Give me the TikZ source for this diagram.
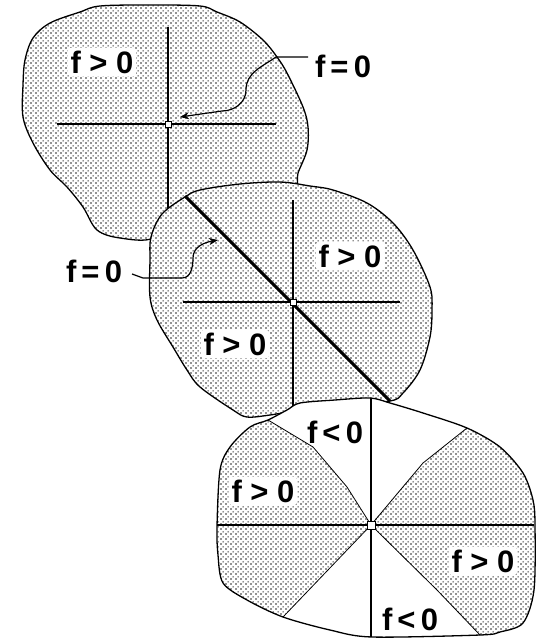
\documentclass[tikz,border=0pt]{standalone}
\usepackage{fontspec}
\setmainfont{Liberation Sans}
\usetikzlibrary{patterns.meta,arrows.meta}
\pgfdeclarepattern{
  name=stipple,
  type=uncolored,
  bottom left={\pgfpoint{0pt}{0pt}},
  top right={\pgfpoint{5pt}{5pt}},
  tile size={\pgfpoint{5pt}{5pt}},
  code={
    \pgfpathrectangle{\pgfpoint{0.5pt}{0.5pt}}{\pgfpoint{1.4pt}{1.4pt}}
    \pgfpathrectangle{\pgfpoint{3pt}{3pt}}{\pgfpoint{1.4pt}{1.4pt}}
    \pgfusepath{fill}
  }
}
\tikzset{
  outline/.style={draw=black, line width=1.3pt},
  dotfill/.style={pattern=stipple, pattern color=black},
  axis/.style={draw=black, line width=1.1pt},
  sector/.style={draw=black, line width=0.8pt},
  centre/.style={draw=black, fill=white, line width=0.9pt, minimum size=#1, inner sep=0pt, rectangle},
  lab/.style={font=\fontsize{31}{31}\selectfont\bfseries, inner sep=3pt, rounded corners=4pt},
  labw/.style={lab, fill=white},
  leader/.style={draw=black, line width=1.2pt},
}
\begin{document}
\begin{tikzpicture}[x=1pt,y=-1pt]
\useasboundingbox (0,0) rectangle (537,639);
% ---------- blob 1 ----------
\path[fill=white] plot[smooth cycle, tension=0.55] coordinates {(33,38) (50,23) (80,12) (100,6) (150,5) (200,6) (217,12) (240,22) (263,40) (277,57) (287,73) (303,107) (308,127) (307,150) (298,173) (292,192) (240,200) (195,202) (170,210) (153,238) (120,238) (97,230) (83,207) (67,187) (50,170) (33,143) (23,117) (23,85) (25,60)};
\path[dotfill] plot[smooth cycle, tension=0.55] coordinates {(33,38) (50,23) (80,12) (100,6) (150,5) (200,6) (217,12) (240,22) (263,40) (277,57) (287,73) (303,107) (308,127) (307,150) (298,173) (292,192) (240,200) (195,202) (170,210) (153,238) (120,238) (97,230) (83,207) (67,187) (50,170) (33,143) (23,117) (23,85) (25,60)};
\path[outline] plot[smooth cycle, tension=0.55] coordinates {(33,38) (50,23) (80,12) (100,6) (150,5) (200,6) (217,12) (240,22) (263,40) (277,57) (287,73) (303,107) (308,127) (307,150) (298,173) (292,192) (240,200) (195,202) (170,210) (153,238) (120,238) (97,230) (83,207) (67,187) (50,170) (33,143) (23,117) (23,85) (25,60)};
\coordinate (c1) at (168,124);
\coordinate (h1w) at (57,124);
\coordinate (h1e) at (276,124);
\coordinate (v1n) at (168,27);
\coordinate (v1s) at (168,208);
\draw[axis] (h1w) -- (h1e);
\draw[axis] (v1n) -- (v1s);
% ---------- blob 2 ----------
\path[fill=white] plot[smooth cycle, tension=0.55] coordinates {(185,197) (200,190) (240,184) (280,182) (310,186) (333,190) (367,203) (393,223) (413,250) (430,287) (432,310) (430,337) (420,370) (403,393) (390,401) (340,405) (300,410) (270,415) (247,417) (233,410) (200,387) (187,370) (173,347) (157,320) (150,297) (150,260) (151,237) (162,214)};
\path[dotfill] plot[smooth cycle, tension=0.55] coordinates {(185,197) (200,190) (240,184) (280,182) (310,186) (333,190) (367,203) (393,223) (413,250) (430,287) (432,310) (430,337) (420,370) (403,393) (390,401) (340,405) (300,410) (270,415) (247,417) (233,410) (200,387) (187,370) (173,347) (157,320) (150,297) (150,260) (151,237) (162,214)};
\path[outline] plot[smooth cycle, tension=0.55] coordinates {(185,197) (200,190) (240,184) (280,182) (310,186) (333,190) (367,203) (393,223) (413,250) (430,287) (432,310) (430,337) (420,370) (403,393) (390,401) (340,405) (300,410) (270,415) (247,417) (233,410) (200,387) (187,370) (173,347) (157,320) (150,297) (150,260) (151,237) (162,214)};
\coordinate (c2) at (293,302);
\coordinate (h2w) at (183,302);
\coordinate (h2e) at (400,302);
\coordinate (v2n) at (293,200);
\coordinate (v2s) at (293,412);
\coordinate (d2a) at (185,196);
\coordinate (d2b) at (390,401);
\draw[axis] (h2w) -- (h2e);
\draw[axis] (v2n) -- (v2s);
\draw[line width=3pt] (d2a) -- (d2b);
% ---------- blob 3 ----------
\path[fill=white] plot[smooth cycle, tension=0.5] coordinates {(300,403) (335,400) (370,398) (390,403) (423,413) (467,428) (500,447) (523,473) (533,500) (535,525) (534,590) (523,623) (500,632) (480,635) (372,637) (330,630) (283,617) (247,600) (223,583) (218,555) (217,527) (220,470) (230,447) (250,427) (268,420) (287,410)};
\begin{scope}
\clip plot[smooth cycle, tension=0.5] coordinates {(300,403) (335,400) (370,398) (390,403) (423,413) (467,428) (500,447) (523,473) (533,500) (535,525) (534,590) (523,623) (500,632) (480,635) (372,637) (330,630) (283,617) (247,600) (223,583) (218,555) (217,527) (220,470) (230,447) (250,427) (268,420) (287,410)};
\path[dotfill] (370,525) -- (347,487) -- (313,447) -- (268,420) -- (250,400) -- (200,400) -- (200,650) -- (275,650) -- (283,617) -- cycle;
\path[dotfill] (370,525) -- (423,463) -- (467,428) -- (490,400) -- (545,400) -- (545,650) -- (492,650) -- (480,635) -- (437,590) -- cycle;
\end{scope}
\coordinate (c3) at (371,525);
\draw[sector] (c3) -- (347,487) -- (313,447) -- (268,420);
\draw[sector] (c3) -- (283,617);
\draw[sector] (c3) -- (423,463) -- (467,428);
\draw[sector] (c3) -- (437,590) -- (480,635);
\path[outline] plot[smooth cycle, tension=0.5] coordinates {(300,403) (335,400) (370,398) (390,403) (423,413) (467,428) (500,447) (523,473) (533,500) (535,525) (534,590) (523,623) (500,632) (480,635) (372,637) (330,630) (283,617) (247,600) (223,583) (218,555) (217,527) (220,470) (230,447) (250,427) (268,420) (287,410)};
\coordinate (h3w) at (217,525);
\coordinate (h3e) at (534,525);
\coordinate (v3n) at (371,398);
\coordinate (v3s) at (371,637);
\draw[axis] (h3w) -- (h3e);
\draw[axis] (v3n) -- (v3s);
% ---------- centre marks ----------
\node[centre=6pt] (m1) at (c1) {};
\node[centre=6pt] (m2) at (c2) {};
\node[centre=8pt] (m3) at (c3) {};
% ---------- labels ----------
\node[labw] (p1) at (102,62) {f > 0};
\node[lab] (z1) at (343,66) {f\,=\,0};
\node[lab] (z2) at (94,271) {f\,=\,0};
\node[labw] (p2) at (350,256) {f > 0};
\node[labw] (p3) at (235,344) {f > 0};
\node[lab] (n1) at (335,432) {f\,<\,0};
\node[labw] (p4) at (263,491) {f > 0};
\node[labw] (p5) at (483,561) {f > 0};
\node[lab] (n2) at (410,619) {f\,<\,0};
% ---------- leaders ----------
\coordinate (L1e) at (308,57);
\coordinate (L1) at (276,57);
\coordinate (A1) at (180,117);
\draw[leader, -{Stealth[length=9pt,width=7pt]}] (L1e) -- (L1) to[out=215,in=90] (246,90) to[out=270,in=0] (222,111) -- (A1);
\coordinate (L2s) at (132,274);
\coordinate (L2) at (143,278);
\coordinate (A2) at (218,240);
\draw[leader, -{Stealth[length=9pt,width=7pt]}] (L2s) -- (L2) -- (182,278) to[out=0,in=270] (193,258) to[out=90,in=190] (A2);
\end{tikzpicture}
\end{document}
